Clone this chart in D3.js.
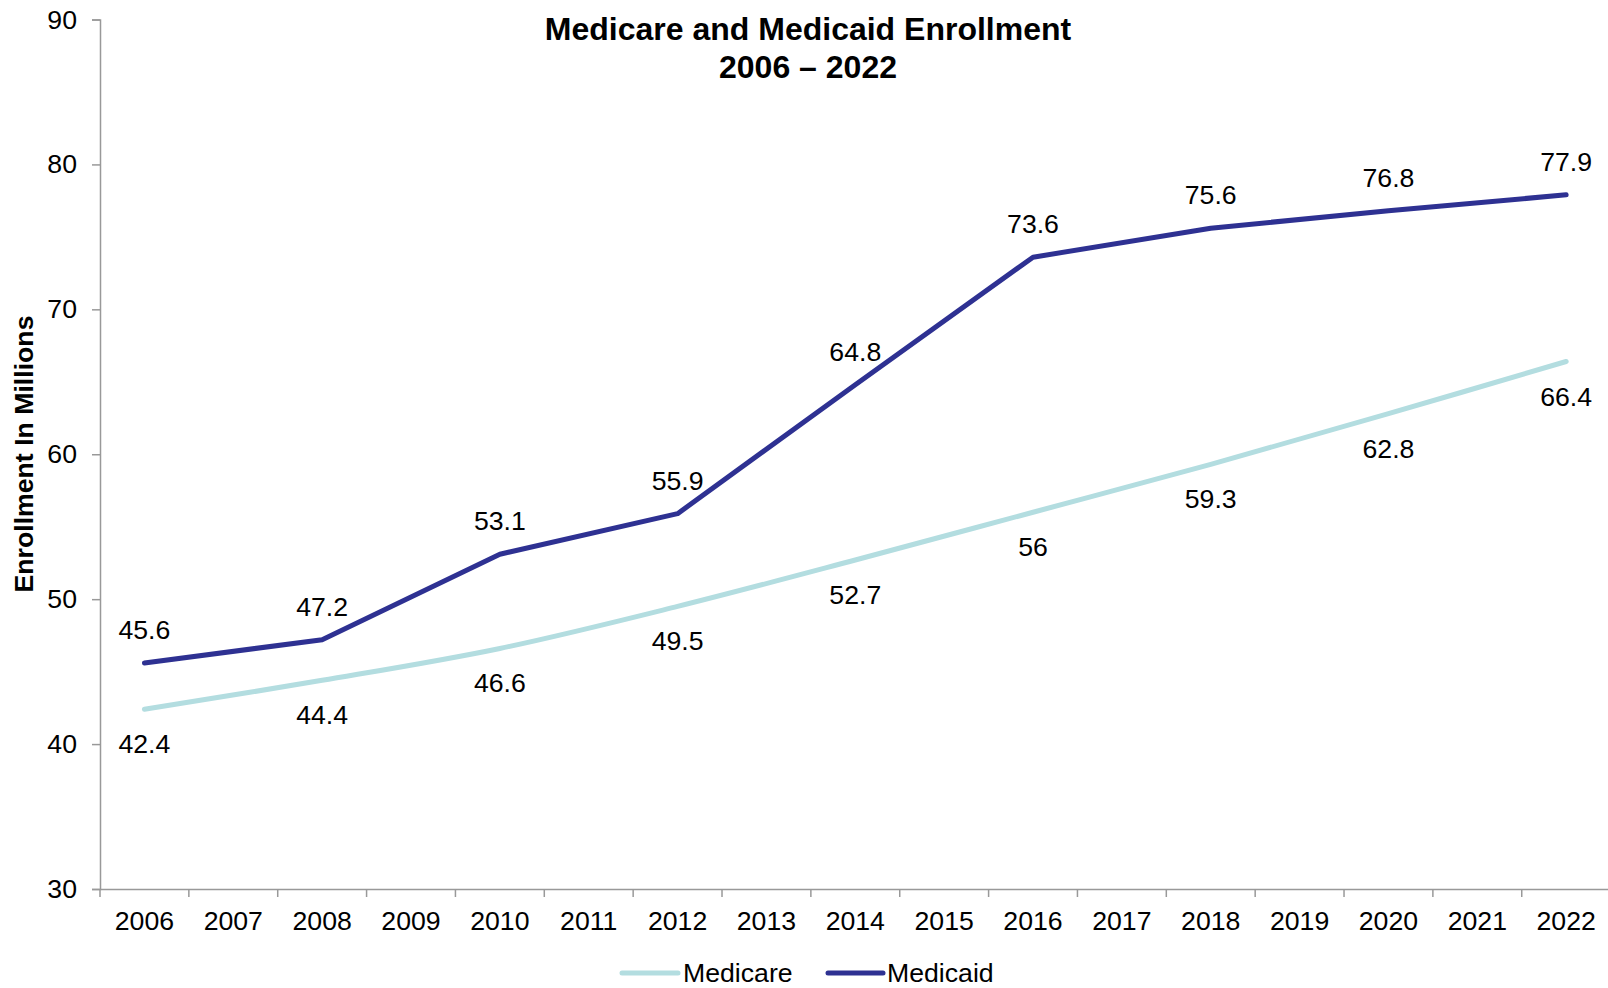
<!DOCTYPE html>
<html>
<head>
<meta charset="utf-8">
<script src="https://cdn.jsdelivr.net/npm/d3@7"></script>
<style>
  html, body { margin: 0; padding: 0; background: #fff; }
  svg { display: block; font-family: "Liberation Sans", Arial, sans-serif; }
</style>
</head>
<body>
<svg id="chart" width="1608" height="988"></svg>
<script>
const years = ["2006","2007","2008","2009","2010","2011","2012","2013","2014","2015","2016","2017","2018","2019","2020","2021","2022"];
const dataYears = ["2006","2008","2010","2012","2014","2016","2018","2020","2022"];
const medicare = [42.4, 44.4, 46.6, 49.5, 52.7, 56, 59.3, 62.8, 66.4];
const medicaid = [45.6, 47.2, 53.1, 55.9, 64.8, 73.6, 75.6, 76.8, 77.9];
const yTicks = [30, 40, 50, 60, 70, 80, 90];
const seriesNames = ["Medicare", "Medicaid"];
const colors = { Medicare: "#b3dde0", Medicaid: "#2e3192" };

const svg = d3.select("#chart");
const fontSize = 26.67;
const axisColor = "#999";

const x = d3.scaleBand().domain(years).range([100, 1610.6]);
const y = d3.scaleLinear().domain([30, 90]).range([889, 19.5]);
const cx = d => x(d) + x.bandwidth() / 2;

// Y axis
const yAxis = svg.append("g")
  .attr("transform", "translate(100,0)")
  .call(d3.axisLeft(y).tickValues(yTicks).tickSize(8).tickPadding(15).tickFormat(d3.format("d")));
yAxis.select(".domain").attr("stroke", axisColor).attr("stroke-width", 1.5);
yAxis.selectAll(".tick line").attr("stroke", axisColor).attr("stroke-width", 1.5);
yAxis.selectAll(".tick text").attr("fill", "#000").style("font-size", fontSize + "px").style("font-family", "'Liberation Sans', Arial, sans-serif");

// X axis (labels at band centers, ticks at band boundaries)
const xAxis = svg.append("g")
  .attr("transform", "translate(0,889)")
  .call(d3.axisBottom(x).tickSize(0).tickPadding(22));
xAxis.select(".domain").attr("stroke", axisColor).attr("stroke-width", 1.5);
xAxis.selectAll(".tick text").attr("fill", "#000").style("font-size", fontSize + "px").style("font-family", "'Liberation Sans', Arial, sans-serif");
const bounds = years.map(d => x(d)).concat([x.range()[1]]);
xAxis.selectAll(".btick").data(bounds).enter().append("line")
  .attr("class", "btick")
  .attr("x1", d => d).attr("x2", d => d)
  .attr("y1", 0).attr("y2", 8)
  .attr("stroke", axisColor).attr("stroke-width", 1.5);

// Lines
const medicareData = dataYears.map((d, i) => ({ year: d, v: medicare[i] }));
const medicaidData = dataYears.map((d, i) => ({ year: d, v: medicaid[i] }));

const lineSmooth = d3.line().x(d => cx(d.year)).y(d => y(d.v)).curve(d3.curveCardinal.tension(0));
const lineStraight = d3.line().x(d => cx(d.year)).y(d => y(d.v));

svg.append("path").datum(medicareData)
  .attr("d", lineSmooth).attr("fill", "none")
  .attr("stroke", colors.Medicare).attr("stroke-width", 5)
  .attr("stroke-linecap", "round").attr("stroke-linejoin", "round");

svg.append("path").datum(medicaidData)
  .attr("d", lineStraight).attr("fill", "none")
  .attr("stroke", colors.Medicaid).attr("stroke-width", 5)
  .attr("stroke-linecap", "round").attr("stroke-linejoin", "round");

// Data labels
svg.append("g").selectAll("text").data(medicaidData).enter().append("text")
  .attr("x", d => cx(d.year)).attr("y", d => y(d.v) - 24)
  .attr("text-anchor", "middle").style("font-size", fontSize + "px").attr("fill", "#000")
  .text(d => d.v);

svg.append("g").selectAll("text").data(medicareData).enter().append("text")
  .attr("x", d => cx(d.year)).attr("y", d => y(d.v) + 44)
  .attr("text-anchor", "middle").style("font-size", fontSize + "px").attr("fill", "#000")
  .text(d => d.v);

// Title
const title = svg.append("text").attr("text-anchor", "middle")
  .style("font-size", "32px").style("font-weight", "bold").attr("fill", "#000");
title.append("tspan").attr("x", 808).attr("y", 40).text("Medicare and Medicaid Enrollment");
title.append("tspan").attr("x", 808).attr("y", 78).text("2006 \u2013 2022");

// Y axis title
svg.append("text")
  .attr("transform", "translate(33,454) rotate(-90)")
  .attr("text-anchor", "middle")
  .style("font-size", fontSize + "px").style("font-weight", "bold").attr("fill", "#000")
  .text("Enrollment In Millions");

// Legend
const legendItems = [
  { name: seriesNames[0], x1: 622, x2: 678, tx: 683 },
  { name: seriesNames[1], x1: 828, x2: 883, tx: 887 }
];
const lg = svg.append("g");
legendItems.forEach(it => {
  lg.append("line").attr("x1", it.x1).attr("x2", it.x2).attr("y1", 973).attr("y2", 973)
    .attr("stroke", colors[it.name]).attr("stroke-width", 5).attr("stroke-linecap", "round");
  lg.append("text").attr("x", it.tx).attr("y", 982)
    .style("font-size", fontSize + "px").attr("fill", "#000").text(it.name);
});
</script>
</body>
</html>
